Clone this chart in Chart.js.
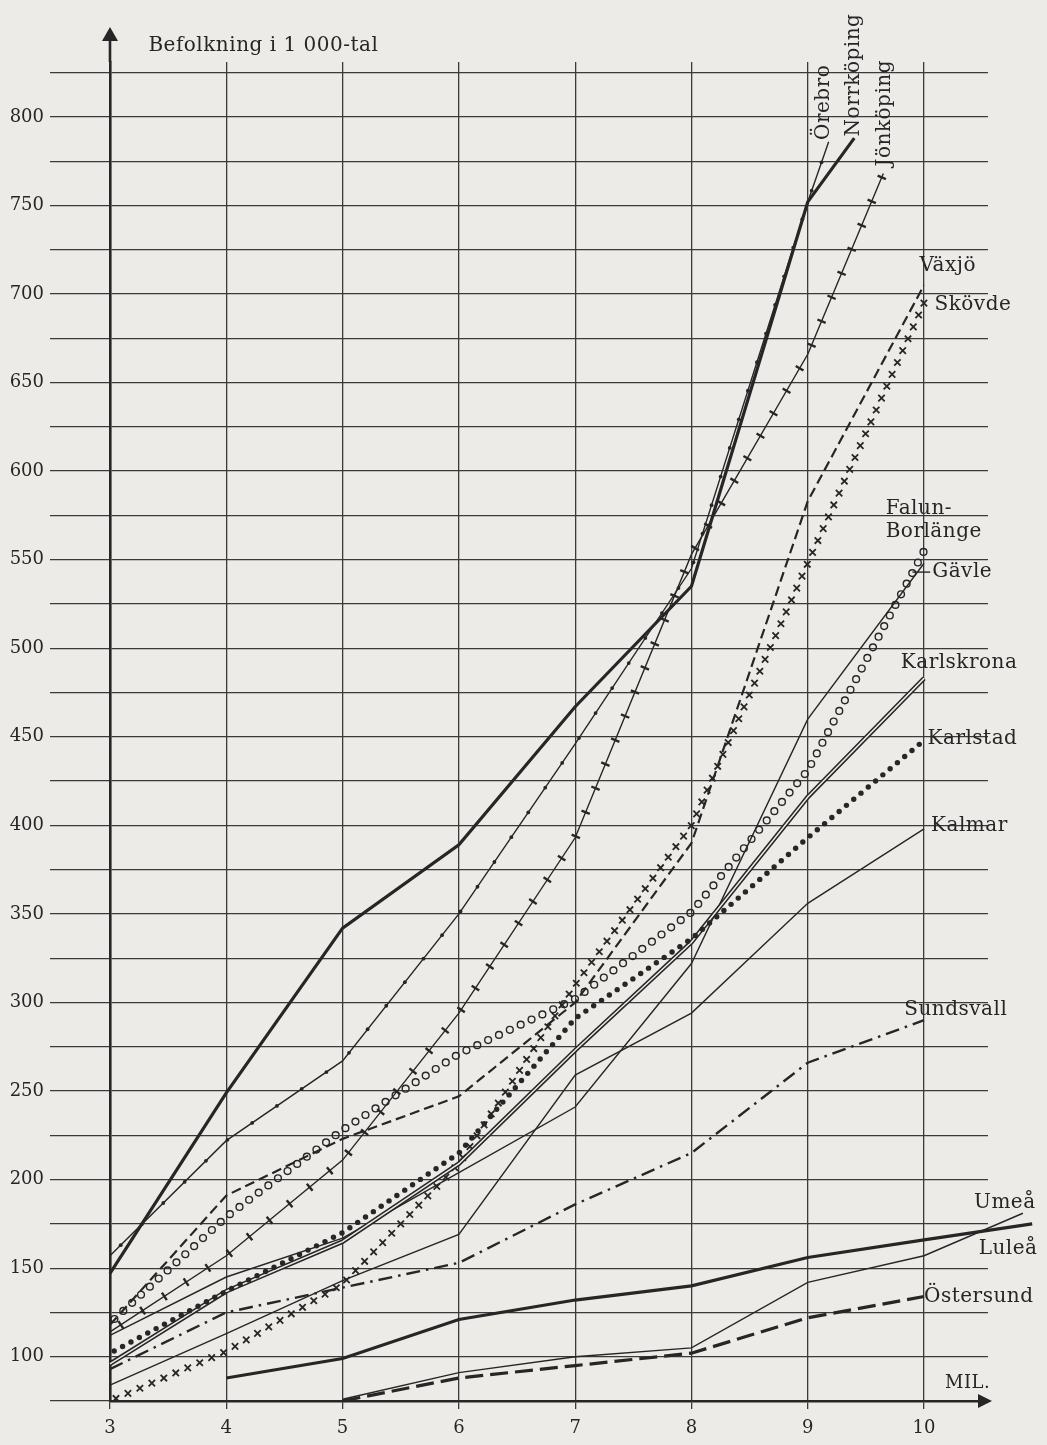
<!DOCTYPE html>
<html>
<head>
<meta charset="utf-8">
<title>Befolkning i 1 000-tal</title>
<script src="https://cdn.jsdelivr.net/npm/chart.js@4.4.1/dist/chart.umd.min.js"></script>
<style>
  html, body { margin: 0; padding: 0; background: #ecebe8; }
  canvas { display: block; }
</style>
</head>
<body>
<canvas id="chart" width="1047" height="1445"></canvas>
<script>
// [mil, befolkning i 1000-tal]
const orebro = [[3, 157], [4, 222], [5, 267], [6, 350], [7, 446], [8, 545], [9, 752], [9.18, 786]]
const norrkoping = [[3, 147], [4, 249], [5, 342], [6, 389], [7, 467], [8, 535], [9, 752], [9.4, 788]]
const jonkoping = [[3, 114], [4, 157], [5, 211], [6, 294], [7, 393], [8, 553], [9, 666], [9.65, 768]]
const vaxjo = [[3, 118], [4, 191], [5, 223], [6, 247], [7, 300], [8, 390], [9, 583], [10, 705]]
const skovde = [[3, 75], [4, 103], [5, 141], [6, 209], [7, 310], [8, 400], [9, 548], [10, 695]]
const falun = [[3, 119], [4, 179], [5, 228], [6, 271], [7, 302], [8, 351], [9, 431], [10, 555]]
const gavle = [[3, 112], [4, 145], [5, 167], [6, 204], [7, 241], [8, 322], [9, 460], [10, 548]]
const karlskrona = [[3, 96], [4, 137], [5, 165], [6, 209], [7, 273], [8, 334], [9, 416], [10, 483]]
const karlstad = [[3, 102], [4, 137], [5, 170], [6, 215], [7, 291], [8, 336], [9, 393], [10, 448]]
const kalmar = [[3, 84], [4, 113], [5, 143], [6, 169], [7, 259], [8, 294], [9, 356], [10, 398]]
const sundsvall = [[3, 93], [4, 125], [5, 139], [6, 153], [7, 186], [8, 215], [9, 266], [10, 290]]
const umea = [[5, 76], [6, 91], [7, 100], [8, 105], [9, 142], [10, 157], [10.85, 181]]
const lulea = [[4, 88], [5, 99], [6, 121], [7, 132], [8, 140], [9, 156], [10, 166], [10.93, 175]]
const ostersund = [[5, 75], [6, 88], [7, 95], [8, 102], [9, 122], [10, 134]]

const milTicks = [3, 4, 5, 6, 7, 8, 9, 10]
const popLabels = [100, 150, 200, 250, 300, 350, 400, 450, 500, 550, 600, 650, 700, 750, 800]

const ink = '#262626'
const paper = '#ecebe8'
const serif = 'DejaVu Serif'

function lineSet(label, data, extra) {
    return Object.assign({
        label: label,
        data: data,
        borderColor: ink,
        borderWidth: 1.4,
        pointRadius: 0,
        tension: 0,
        fill: false,
        clip: false
    }, extra)
}

// walk along the drawn polyline and call fn every `gap` pixels
function walkPath(pts, gap, fn) {
    let carry = gap / 2
    for (let i = 1; i < pts.length; i++) {
        const a = pts[i - 1], b = pts[i]
        const dx = b.x - a.x, dy = b.y - a.y
        const len = Math.hypot(dx, dy)
        if (!len) continue
        let d = carry
        while (d <= len) {
            fn(a.x + dx * d / len, a.y + dy * d / len, dx / len, dy / len)
            d += gap
        }
        carry = d - len
    }
}

function drawMark(ctx, kind, x, y, ux, uy) {
    ctx.beginPath()
    switch (kind) {
        case 'beads':
            ctx.arc(x, y, 1.9, 0, Math.PI * 2)
            ctx.fill()
            break
        case 'dots':
            ctx.arc(x, y, 2.7, 0, Math.PI * 2)
            ctx.fill()
            break
        case 'rings':
            ctx.lineWidth = 1.4
            ctx.arc(x, y, 3.4, 0, Math.PI * 2)
            ctx.stroke()
            break
        case 'crosses':
            ctx.lineWidth = 1.8
            ctx.moveTo(x - 3.2, y - 3.2); ctx.lineTo(x + 3.2, y + 3.2)
            ctx.moveTo(x - 3.2, y + 3.2); ctx.lineTo(x + 3.2, y - 3.2)
            ctx.stroke()
            break
        case 'ticks':
            ctx.lineWidth = 2.4
            ctx.moveTo(x - uy * 4.5, y + ux * 4.5)
            ctx.lineTo(x + uy * 4.5, y - ux * 4.5)
            ctx.stroke()
            break
    }
}

const lineDecor = {
    id: 'lineDecor',
    afterDatasetsDraw(chart) {
        const ctx = chart.ctx
        chart.data.datasets.forEach((ds, i) => {
            if (!ds.deco) return
            const pts = chart.getDatasetMeta(i).data.map(p => ({ x: p.x, y: p.y }))
            ctx.save()
            ctx.strokeStyle = ink
            ctx.fillStyle = ink
            if (ds.deco === 'double') {
                ctx.beginPath()
                pts.forEach((p, k) => k ? ctx.lineTo(p.x, p.y) : ctx.moveTo(p.x, p.y))
                ctx.strokeStyle = paper
                ctx.lineWidth = 1.5
                ctx.stroke()
            } else {
                walkPath(pts, ds.gap, (x, y, ux, uy) => drawMark(ctx, ds.deco, x, y, ux, uy))
            }
            ctx.restore()
        })
    }
}

// text placed in data coordinates
const cityLabels = [
    { text: 'Örebro', x: 9.14, y: 787, up: true },
    { text: 'Norrköping', x: 9.40, y: 789, up: true },
    { text: 'Jönköping', x: 9.665, y: 772, up: true },
    { text: 'Växjö', x: 9.96, y: 716 },
    { text: 'Skövde', x: 10.09, y: 694 },
    { text: 'Falun-', x: 9.67, y: 579 },
    { text: 'Borlänge', x: 9.67, y: 566 },
    { text: 'Gävle', x: 10.07, y: 543 },
    { text: 'Karlskrona', x: 9.80, y: 492 },
    { text: 'Karlstad', x: 10.03, y: 449 },
    { text: 'Kalmar', x: 10.06, y: 400 },
    { text: 'Sundsvall', x: 9.83, y: 296 },
    { text: 'Umeå', x: 10.43, y: 187 },
    { text: 'Luleå', x: 10.47, y: 161 },
    { text: 'Östersund', x: 10.0, y: 134 },
    { text: 'MIL.', x: 10.18, y: 85, small: true },
    { text: 'Befolkning i 1 000-tal', x: 3.33, y: 840 }
]

const chartText = {
    id: 'chartText',
    afterDraw(chart) {
        const ctx = chart.ctx
        const sx = chart.scales.x, sy = chart.scales.y
        const area = chart.chartArea
        ctx.save()
        ctx.fillStyle = ink
        ctx.strokeStyle = ink

        // y axis runs on past the top grid line and ends in an arrow
        ctx.lineWidth = 2.6
        ctx.beginPath()
        ctx.moveTo(area.left, area.top)
        ctx.lineTo(area.left, 38)
        ctx.stroke()
        ctx.beginPath()
        ctx.moveTo(area.left, 27)
        ctx.lineTo(area.left - 8, 41)
        ctx.lineTo(area.left + 8, 41)
        ctx.closePath()
        ctx.fill()

        // x axis arrow
        ctx.beginPath()
        ctx.moveTo(area.right + 4, area.bottom)
        ctx.lineTo(area.right - 10, area.bottom - 7)
        ctx.lineTo(area.right - 10, area.bottom + 7)
        ctx.closePath()
        ctx.fill()

        // short leader into the Gävle label
        ctx.lineWidth = 1.4
        ctx.beginPath()
        ctx.moveTo(sx.getPixelForValue(9.9), sy.getPixelForValue(543))
        ctx.lineTo(sx.getPixelForValue(10.07) - 2, sy.getPixelForValue(543))
        ctx.stroke()

        ctx.textBaseline = 'middle'
        ctx.textAlign = 'left'
        cityLabels.forEach(l => {
            const px = sx.getPixelForValue(l.x)
            const py = sy.getPixelForValue(l.y)
            ctx.font = (l.small ? 18 : 20) + 'px "' + serif + '"'
            ctx.letterSpacing = '0.5px'
            if (l.up) {
                ctx.save()
                ctx.translate(px, py)
                ctx.rotate(-Math.PI / 2)
                ctx.fillText(l.text, 0, 0)
                ctx.restore()
            } else {
                ctx.fillText(l.text, px, py)
            }
        })
        ctx.restore()
    }
}

const gridInk = '#3a3a3a'

new Chart(document.getElementById('chart').getContext('2d'), {
    type: 'line',
    data: {
        datasets: [
            lineSet('Örebro', orebro, { deco: 'beads', gap: 30 }),
            lineSet('Norrköping', norrkoping, { borderWidth: 3.2 }),
            lineSet('Jönköping', jonkoping, { deco: 'ticks', gap: 26 }),
            lineSet('Växjö', vaxjo, { borderWidth: 2.2, borderDash: [10, 5] }),
            lineSet('Skövde', skovde, { borderColor: 'transparent', deco: 'crosses', gap: 13 }),
            lineSet('Falun-Borlänge', falun, { borderColor: 'transparent', deco: 'rings', gap: 12 }),
            lineSet('Gävle', gavle, {}),
            lineSet('Karlskrona', karlskrona, { borderWidth: 4.6, deco: 'double' }),
            lineSet('Karlstad', karlstad, { borderColor: 'transparent', deco: 'dots', gap: 9.5 }),
            lineSet('Kalmar', kalmar, {}),
            lineSet('Sundsvall', sundsvall, { borderWidth: 2.4, borderDash: [14, 6, 2.5, 6] }),
            lineSet('Umeå', umea, {}),
            lineSet('Luleå', lulea, { borderWidth: 3.2 }),
            lineSet('Östersund', ostersund, { borderWidth: 3.2, borderDash: [18, 7] })
        ]
    },
    options: {
        responsive: false,
        animation: false,
        layout: { padding: { top: 62, right: 59, bottom: 0, left: 0 } },
        plugins: {
            legend: { display: false },
            tooltip: { enabled: false }
        },
        scales: {
            x: {
                type: 'linear',
                min: 3,
                max: 10.55,
                afterFit: s => { s.height = 44 },
                afterBuildTicks: s => { s.ticks = milTicks.map(v => ({ value: v })) },
                ticks: {
                    autoSkip: false,
                    maxRotation: 0,
                    padding: 9,
                    color: ink,
                    font: { family: serif, size: 18 }
                },
                grid: { color: gridInk, lineWidth: 1.3, tickLength: 8, tickColor: gridInk },
                border: { color: ink, width: 2.6 }
            },
            y: {
                min: 75,
                max: 831,
                afterFit: s => { s.width = 110 },
                ticks: {
                    stepSize: 25,
                    includeBounds: false,
                    autoSkip: false,
                    padding: 6,
                    color: ink,
                    font: { family: serif, size: 18 },
                    callback: v => popLabels.includes(v) ? String(v) : ''
                },
                grid: { color: gridInk, lineWidth: 1.3, tickLength: 60, tickColor: gridInk },
                border: { color: ink, width: 2.6 }
            }
        }
    },
    plugins: [lineDecor, chartText]
})
</script>
</body>
</html>
